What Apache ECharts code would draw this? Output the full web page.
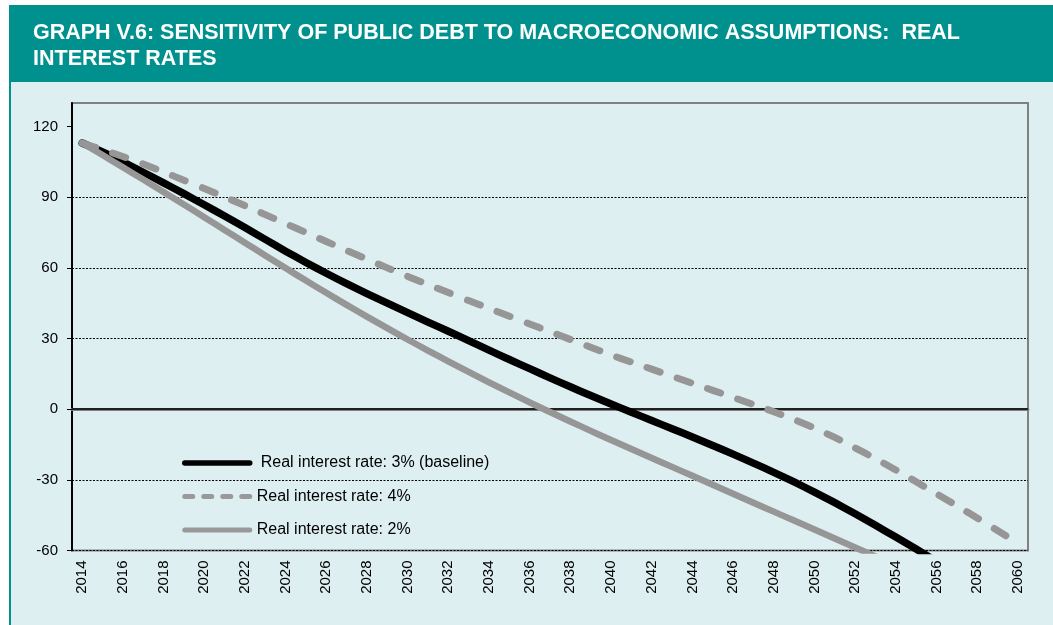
<!DOCTYPE html>
<html><head><meta charset="utf-8">
<script src="https://cdn.jsdelivr.net/npm/echarts@6/dist/echarts.min.js"></script>
<style>
html,body{margin:0;padding:0;background:#fff;width:1053px;height:625px;overflow:hidden}
#bg{position:absolute;left:9px;top:5px;width:1044px;height:620px;background:#DEEFF1;}
#hdr{position:absolute;left:9px;top:5px;width:1044px;height:77px;background:#00918F;}
#lb{position:absolute;left:9px;top:82px;width:2px;height:543px;background:#00918F;}
#chart{position:absolute;left:0;top:0;width:1053px;height:625px;}
</style></head>
<body>
<div id="bg"></div><div id="hdr"></div><div id="lb"></div>
<div id="chart"></div>
<script>
const years = ['2014','2015','2016','2017','2018','2019','2020','2021','2022','2023','2024','2025','2026','2027','2028','2029','2030','2031','2032','2033','2034','2035','2036','2037','2038','2039','2040','2041','2042','2043','2044','2045','2046','2047','2048','2049','2050','2051','2052','2053','2054','2055','2056','2057','2058','2059','2060'];
const baseline = [113,109.2,105,100.6,96.1,91.5,86.8,82,77.1,72.1,67.1,62.3,57.7,53.3,49.1,45,41,37,33.1,29.1,25.1,21.1,17.2,13.3,9.5,5.8,2.2,-1.3,-4.8,-8.3,-11.8,-15.4,-19.1,-22.9,-26.8,-30.9,-35.2,-39.7,-44.4,-49.3,-54.3,-59.4,-64.6,null,null,null,null];
const rate4 = [113,110.2,107.3,104.1,100.7,97.2,93.7,90.1,86.4,82.6,78.8,75,71.2,67.4,63.7,60,56.4,52.9,49.5,46.1,42.8,39.5,36.2,32.9,29.6,26.3,23,20,17,14,11,8,5,2,-1.1,-4.4,-8,-12,-16.4,-21,-25.8,-30.8,-35.9,-41,-46.2,-51.5,-56.9];
const rate2 = [113,107.9,102.7,97.5,92.2,86.9,81.5,76.1,70.7,65.3,59.9,54.6,49.4,44.3,39.3,34.4,29.6,24.9,20.3,15.8,11.4,7.1,2.9,-1.2,-5.2,-9.2,-13.1,-16.9,-20.7,-24.5,-28.3,-32.1,-35.9,-39.7,-43.5,-47.3,-51.1,-54.9,-58.7,-62.5,null,null,null,null,null,null,null];
const yTicks = [-60,-30,0,30,60,90,120];
const seriesNames = ['Real interest rate: 3% (baseline)','Real interest rate: 4%','Real interest rate: 2%'];
const titleText = 'GRAPH V.6: SENSITIVITY OF PUBLIC DEBT TO MACROECONOMIC ASSUMPTIONS:  REAL\nINTEREST RATES';

const FF = '"Liberation Sans", Arial, sans-serif';
const noSym = {color:'rgba(0,0,0,0)', borderColor:'rgba(0,0,0,0)', borderWidth:0, opacity:0};
const chart = echarts.init(document.getElementById('chart'), null, {renderer:'canvas'});
chart.setOption({
  animation: false,
  backgroundColor: 'transparent',
  title: {text: titleText, left: 33, top: 20, padding: 0,
    textStyle: {color:'#fff', fontSize:21.5, fontWeight:'bold', fontFamily: FF, lineHeight: 26}},
  grid: {left:72, right:25, top:103, bottom:74.5, show:true, borderColor:'#808080', borderWidth:2, backgroundColor:'transparent', outerBoundsMode:'none'},
  legend: {
    orient:'vertical', left:182, top:455, padding:0, itemWidth:65, itemHeight:16, itemGap:17.5, selectedMode:false,
    textStyle:{fontSize:16, color:'#000', fontFamily: FF},
    data: [
      {name: seriesNames[0], itemStyle: noSym, lineStyle:{width:5.5, color:'#000', cap:'round'}, textStyle:{padding:[0,0,0,6]}},
      {name: seriesNames[1], itemStyle: noSym, lineStyle:{width:5, color:'#999', type:[8,11], cap:'round'}, textStyle:{padding:[0,0,0,2]}},
      {name: seriesNames[2], itemStyle: noSym, lineStyle:{width:5, color:'#999', cap:'round'}, textStyle:{padding:[0,0,0,2]}}
    ]
  },
  xAxis: {type:'category', data: years, boundaryGap:true,
    axisLine:{lineStyle:{color:'#808080', width:3}}, axisTick:{show:false},
    axisLabel:{interval:1, rotate:90, fontSize:15, color:'#000', margin:10, fontFamily: FF},
    splitLine:{show:false}},
  yAxis: {type:'value', min:-60, max:130, interval:30,
    axisLine:{show:true, lineStyle:{color:'#000', width:2}},
    axisTick:{show:true, length:5, lineStyle:{color:'#000'}, customValues: yTicks},
    axisLabel:{showMaxLabel:false, fontSize:15, color:'#000', margin:14, fontFamily: FF},
    splitLine:{show:true, showMaxLine:false, lineStyle:{color:'#000', type:[2,1.5], width:1}}},
  series: [
    {name: seriesNames[0], type:'line', data: baseline, symbol:'none', z:10, smooth:0.2,
      lineStyle:{color:'#000', width:7.5, cap:'round', join:'round'}, itemStyle:{color:'#000'},
      markLine:{silent:true, symbol:['none','none'], label:{show:false}, z:3,
        lineStyle:{color:'#000', type:'solid', width:1.5}, data:[{yAxis:0}]}},
    {name: seriesNames[1], type:'line', data: rate4, symbol:'none', z:11, smooth:0.2,
      lineStyle:{color:'#969696', width:7, type:[14,18], cap:'round', join:'round'}, itemStyle:{color:'#969696'}},
    {name: seriesNames[2], type:'line', data: rate2, symbol:'none', z:12, smooth:0.2,
      lineStyle:{color:'#969696', width:6.5, cap:'round', join:'round'}, itemStyle:{color:'#969696'}}
  ]
});
</script>
</body></html>
